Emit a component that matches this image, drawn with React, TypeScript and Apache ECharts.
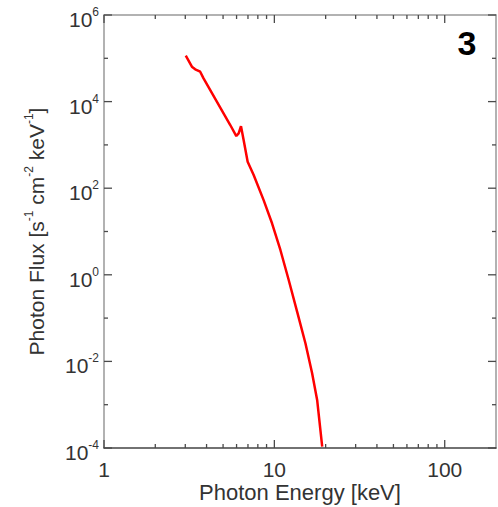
import React, { useEffect, useRef } from "react";
import * as echarts from "echarts";

const energy = [3.02, 3.28, 3.43, 3.67, 3.84, 5.51, 5.98, 6.17, 6.37, 6.6, 6.97, 7.56, 8.65, 9.69, 10.85, 12.14, 13.6, 15.22, 16.66, 17.83, 19.09];
const flux = [1.15e5, 6.4e4, 5.57e4, 4.9e4, 3.45e4, 2.88e3, 1.6e3, 1.85e3, 2.7e3, 1.3e3, 409, 202, 53, 15.5, 3.74, 0.758, 0.141, 0.0262, 0.00531, 1.29e-3, 1.07e-4];

const xMajorTicks = [1, 10, 100];
const xMinorTicks = [2, 3, 4, 5, 6, 7, 8, 9, 20, 30, 40, 50, 60, 70, 80, 90];
const yMajorTicks = [1e-4, 1e-2, 1, 1e2, 1e4, 1e6];
const yMinorTicks = [1e-3, 1e-1, 10, 1e3, 1e5];

const X_MIN = 1;
const X_MAX = 200;
const Y_MIN = 1e-4;
const Y_MAX = 1e6;

const FONT = "'Liberation Sans', Arial, sans-serif";
const LABEL_COLOR = "#333";
const TICK_COLOR = "#4a4a4a";
const MAJOR_LEN = 8;
const MINOR_LEN = 4;
const TICK_W = 1.3;

const supFormatter = (v: number) => {
  const e = Math.round(Math.log10(v));
  return `{b|10}{s|${e}}`;
};

const supRich = {
  b: { fontSize: 21, fontFamily: FONT, color: LABEL_COLOR, lineHeight: 24, verticalAlign: "bottom" },
  s: { fontSize: 12, fontFamily: FONT, color: LABEL_COLOR, lineHeight: 14, verticalAlign: "top" },
};

export default function App() {
  const ref = useRef<HTMLDivElement>(null);
  useEffect(() => {
    if (!ref.current) return;
    const chart = echarts.init(ref.current, undefined, { renderer: "svg" });
    const xBase = { type: "log", logBase: 10, min: X_MIN, max: X_MAX, gridIndex: 0, splitLine: { show: false }, axisTick: { show: false } };
    const yBase = { type: "log", logBase: 10, min: Y_MIN, max: Y_MAX, gridIndex: 0, splitLine: { show: false }, axisTick: { show: false } };

    chart.setOption({
      animation: false,
      backgroundColor: "#fff",
      grid: { left: 104, top: 15, right: 2, bottom: 59, containLabel: false, outerBoundsMode: "none" },
      xAxis: [
        {
          ...xBase,
          position: "bottom",
          axisLine: { show: true, lineStyle: { color: "#444", width: 1.5 } },
          axisLabel: {
            show: true,
            customValues: xMajorTicks,
            formatter: (v: number) => String(Math.round(v)),
            fontSize: 21,
            lineHeight: 20,
            fontFamily: FONT,
            color: LABEL_COLOR,
            margin: 11,
          },
          name: "Photon Energy [keV]",
          nameLocation: "middle",
          nameGap: 33,
          nameMoveOverlap: false,
          nameTextStyle: { fontSize: 22, lineHeight: 22, fontFamily: FONT, color: LABEL_COLOR },
        },
        {
          ...xBase,
          position: "top",
          axisLine: { show: true, lineStyle: { color: "#999", width: 1.5 } },
          axisLabel: { show: false },
        },
      ],
      yAxis: [
        {
          ...yBase,
          position: "left",
          axisLine: { show: true, lineStyle: { color: "#999", width: 1.5 } },
          axisLabel: {
            show: true,
            customValues: yMajorTicks,
            formatter: supFormatter,
            rich: supRich,
            margin: 5,
            padding: [6, 0, 0, 0],
          },
          name: "{b|Photon Flux [s}{s|-1}{b| cm}{s|-2}{b| keV}{s|-1}{b|]}",
          nameLocation: "middle",
          nameGap: 57,
          nameMoveOverlap: false,
          nameTextStyle: { rich: supRich },
        },
        {
          ...yBase,
          position: "right",
          axisLine: { show: true, lineStyle: { color: "#999", width: 1.5 } },
          axisLabel: { show: false },
        },
      ],
      series: [
        {
          type: "line",
          xAxisIndex: 0,
          yAxisIndex: 0,
          data: energy.map((e, i) => [e, flux[i]]),
          showSymbol: false,
          symbol: "none",
          lineStyle: { color: "#ff0000", width: 2.5 },
          clip: true,
          z: 6,
        },
      ],
    });

    // Tick marks, positioned through the chart's own axis scales.
    const finder = { xAxisIndex: 0, yAxisIndex: 0 };
    const pTop = chart.convertToPixel(finder, [X_MIN, Y_MAX]) as number[];
    const pBottom = chart.convertToPixel(finder, [X_MAX, Y_MIN]) as number[];
    const left = pTop[0];
    const top = pTop[1];
    const right = pBottom[0];
    const bottom = pBottom[1];
    const ticks: any[] = [];
    const mk = (x: number, y: number, w: number, h: number) => ({
      type: "rect",
      silent: true,
      z: 5,
      shape: { x, y, width: w, height: h },
      style: { fill: TICK_COLOR },
    });
    const addX = (v: number, len: number) => {
      const x = (chart.convertToPixel(finder, [v, 1]) as number[])[0];
      ticks.push(mk(x - TICK_W / 2, bottom - len, TICK_W, len));
      ticks.push(mk(x - TICK_W / 2, top, TICK_W, len));
    };
    const addY = (v: number, len: number) => {
      const y = (chart.convertToPixel(finder, [2, v]) as number[])[1];
      ticks.push(mk(left, y - TICK_W / 2, len, TICK_W));
      ticks.push(mk(right - len, y - TICK_W / 2, len, TICK_W));
    };
    xMajorTicks.forEach((v) => addX(v, MAJOR_LEN));
    xMinorTicks.forEach((v) => addX(v, MINOR_LEN));
    yMajorTicks.forEach((v) => addY(v, MAJOR_LEN));
    yMinorTicks.forEach((v) => addY(v, MINOR_LEN));

    chart.setOption({
      graphic: [
        ...ticks,
        {
          type: "text",
          x: 467,
          y: 43,
          style: {
            text: "3",
            fontSize: 34,
            fontWeight: "bold",
            fontFamily: FONT,
            fill: "#000",
            align: "center",
            verticalAlign: "middle",
          },
        },
      ],
    });
    return () => chart.dispose();
  }, []);
  return <div ref={ref} style={{ position: "fixed", left: 0, top: 0, width: 498, height: 507 }} />;
}
